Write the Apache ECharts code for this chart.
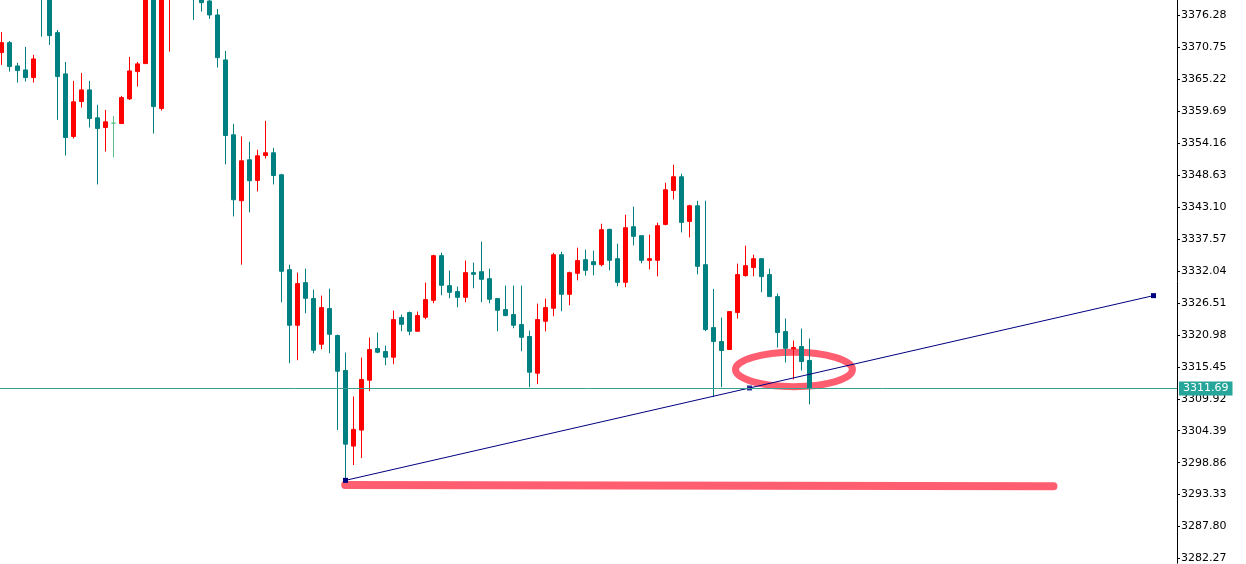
<!DOCTYPE html>
<html><head><meta charset="utf-8">
<script src="https://cdn.jsdelivr.net/npm/echarts@6/dist/echarts.min.js"></script>
<style>html,body{margin:0;padding:0;background:#fff;}#c{width:1246px;height:564px;}</style>
</head><body><div id="c"></div>
<script>
// ---- data (prices) ----
const opens = [3369.85,3371.58,3367.55,3366.86,3365.53,3384.20,3383.00,3373.31,3366.17,3355.33,
3361.38,3363.40,3358.56,3356.88,3357.64,3357.57,3361.84,3366.56,3367.95,3385.00,
3360.17,3381.00,3388.00,3392.00,3387.00,3382.00,3378.79,3376.37,3368.59,3355.62,
3344.21,3351.30,3347.72,3352.04,3352.51,3348.70,3332.28,3322.65,3330.03,3327.27,
3319.36,3325.54,3320.87,3314.82,3301.73,3304.50,3313.14,3318.62,3318.10,3317.12,
3323.98,3324.85,3321.61,3324.03,3326.97,3334.70,3329.51,3328.48,3327.49,3331.76,
3331.93,3330.72,3327.27,3325.36,3324.50,3322.77,3320.70,3314.35,3323.34,3325.59,
3334.87,3328.01,3331.64,3334.01,3333.66,3333.14,3339.25,3334.18,3330.08,3339.71,
3338.16,3333.89,3333.89,3340.11,3345.99,3348.36,3340.63,3343.34,3333.14,3322.25,
3319.83,3318.45,3324.85,3331.24,3332.63,3334.18,3331.42,3327.61,3321.56,3318.57,
3318.97,3316.55];
const closes = [3371.58,3367.43,3366.74,3365.53,3368.76,3379.40,3372.79,3365.70,3355.15,3361.33,
3363.40,3358.44,3356.71,3357.87,3357.64,3362.07,3366.68,3367.90,3384.00,3360.51,
3386.00,3388.00,3392.00,3386.00,3381.00,3378.49,3376.37,3368.98,3355.50,3344.38,
3351.12,3347.67,3351.99,3352.51,3348.58,3331.99,3322.65,3329.86,3327.32,3318.33,
3325.71,3321.09,3314.70,3302.07,3304.62,3313.26,3318.45,3317.98,3317.12,3323.64,
3322.82,3321.61,3324.33,3327.09,3334.70,3329.57,3328.35,3327.49,3331.76,3331.47,
3330.60,3327.15,3325.24,3324.33,3322.65,3320.57,3314.52,3323.64,3325.71,3334.87,
3328.01,3331.76,3333.84,3332.16,3333.14,3339.20,3333.89,3330.08,3339.54,3338.04,
3333.89,3334.18,3339.89,3346.11,3348.36,3340.46,3343.34,3332.85,3321.91,3319.83,
3318.28,3325.02,3331.42,3332.97,3334.18,3331.07,3327.61,3321.39,3318.67,3318.79,
3316.37,3311.69];
const lows = [3367.72,3366.56,3364.66,3364.84,3364.66,3372.61,3371.18,3358.21,3352.04,3354.98,
3360.34,3356.88,3347.03,3352.73,3351.70,3357.57,3361.67,3363.97,3367.95,3355.84,
3359.82,3370.02,3384.00,3382.00,3375.50,3376.94,3375.68,3367.26,3350.49,3341.49,
3333.14,3342.19,3345.82,3351.52,3347.03,3326.63,3316.08,3316.60,3324.72,3317.81,
3318.50,3317.81,3304.50,3295.80,3298.45,3299.65,3311.24,3317.81,3315.73,3315.91,
3321.61,3320.92,3321.61,3323.69,3326.45,3327.84,3327.32,3325.76,3326.63,3329.05,
3326.63,3326.45,3321.61,3324.21,3322.13,3318.15,3311.93,3312.45,3321.61,3324.21,
3325.07,3326.11,3330.43,3331.24,3331.29,3332.85,3332.16,3329.39,3329.22,3336.48,
3333.37,3332.33,3331.12,3339.94,3344.43,3338.73,3337.86,3331.47,3321.61,3310.20,
3311.93,3318.45,3323.81,3331.07,3331.12,3328.35,3327.61,3318.79,3316.20,3313.26,
3314.82,3308.94];
const highs = [3373.43,3371.87,3368.07,3370.83,3369.45,3385.50,3386.00,3373.77,3368.24,3364.96,
3366.34,3364.96,3360.81,3359.94,3358.90,3362.36,3369.11,3368.24,3386.00,3388.00,
3390.00,3390.00,3395.00,3394.00,3389.00,3383.00,3379.60,3377.40,3370.14,3357.52,
3355.33,3354.41,3353.03,3358.04,3353.37,3348.88,3333.14,3331.76,3332.45,3328.82,
3327.78,3328.99,3321.04,3317.93,3310.32,3317.07,3320.52,3321.39,3319.14,3325.19,
3324.50,3325.02,3325.02,3330.03,3334.87,3335.22,3332.11,3329.34,3333.84,3333.49,
3337.12,3332.45,3327.27,3329.51,3329.51,3329.51,3321.73,3326.40,3327.27,3335.22,
3335.39,3331.93,3336.08,3335.74,3335.56,3340.23,3339.37,3336.77,3341.79,3343.17,
3338.16,3338.33,3340.41,3347.32,3350.43,3348.88,3343.52,3344.21,3344.21,3328.94,
3323.98,3325.02,3333.32,3336.43,3334.87,3334.18,3332.45,3328.13,3323.81,3320.00,
3322.08,3320.35];
const yTicks = [3282.27,3287.80,3293.33,3298.86,3304.39,3309.92,3315.45,3320.98,3326.51,
3332.04,3337.57,3343.10,3348.63,3354.16,3359.69,3365.22,3370.75,3376.28];
const bidPrice = 3311.69;
// trend line anchors [bar index, price] and its middle handle
const trendLine = [[43, 3295.80], [144, 3327.78]];
const trendMid = [[93.5, 3311.79]];
// hand-drawn annotations, anchored in data units
const redStroke = [[42.96, 3294.99], [131.5, 3294.77]];
const ellipseCenter = [99.06, 3314.99];
const ellipseRadius = [7.31, 2.97];

// ---- chart ----
const chart = echarts.init(document.getElementById('c'), null, {renderer: 'canvas'});
const candleData = opens.map((o, i) => [i, o, closes[i], lows[i], highs[i]]);
const font = 'DejaVu Sans';
chart.setOption({
  animation: false,
  backgroundColor: '#ffffff',
  grid: {left: 0, right: 69, top: 0, bottom: 0, containLabel: false},
  xAxis: {type: 'value', min: -0.1875, max: 146.94, show: false},
  yAxis: {
    type: 'value', position: 'right', min: 3281.45, max: 3378.96,
    splitLine: {show: false},
    axisLine: {show: true, onZero: false, lineStyle: {color: '#000', width: 1}},
    axisTick: {show: true, inside: false, length: 3, lineStyle: {color: '#000'}, customValues: yTicks},
    axisLabel: {customValues: yTicks, formatter: v => v.toFixed(2), color: '#000',
      fontFamily: font, fontSize: 11, margin: 4}
  },
  series: [
    {
      type: 'line', data: redStroke, z: 1, symbol: 'none', silent: true,
      lineStyle: {color: '#ff5468', width: 8, cap: 'round', opacity: 0.95}
    },
    {
      type: 'candlestick', data: candleData, encode: {x: 0, y: [1, 2, 3, 4]},
      barWidth: 4, clip: true, z: 2, silent: true,
      itemStyle: {color: '#ff0000', color0: '#008080', borderColor: '#ff0000',
        borderColor0: '#008080', borderColorDoji: '#5cbf8a', borderWidth: 1},
      emphasis: {disabled: true},
      markLine: {
        silent: true, symbol: ['none', 'none'], animation: false,
        lineStyle: {color: '#3aa08f', width: 1, type: 'solid'},
        emphasis: {disabled: true},
        label: {show: true, position: 'end', distance: 2, formatter: () => bidPrice.toFixed(2),
          color: '#fff', backgroundColor: '#26a69a', padding: [1, 4, 1, 4],
          fontFamily: font, fontSize: 11, lineHeight: 12},
        data: [{yAxis: bidPrice}]
      }
    },
    {
      type: 'line', data: trendLine, z: 3, symbol: 'rect', symbolSize: 5, silent: true,
      lineStyle: {color: '#000080', width: 1}, itemStyle: {color: '#000080'}
    },
    {
      type: 'scatter', data: trendMid, z: 3, symbol: 'rect', symbolSize: 5, silent: true,
      itemStyle: {color: '#000080'}
    }
  ]
});
const c = chart.convertToPixel({xAxisIndex: 0, yAxisIndex: 0}, ellipseCenter);
const e = chart.convertToPixel({xAxisIndex: 0, yAxisIndex: 0},
  [ellipseCenter[0] + ellipseRadius[0], ellipseCenter[1] + ellipseRadius[1]]);
chart.setOption({graphic: [{
  type: 'ellipse', silent: true, z: 1,
  shape: {cx: c[0], cy: c[1], rx: Math.abs(e[0] - c[0]), ry: Math.abs(e[1] - c[1])},
  style: {fill: 'none', stroke: '#ff5468', lineWidth: 7, opacity: 0.95}
}]});
</script>
</body></html>
